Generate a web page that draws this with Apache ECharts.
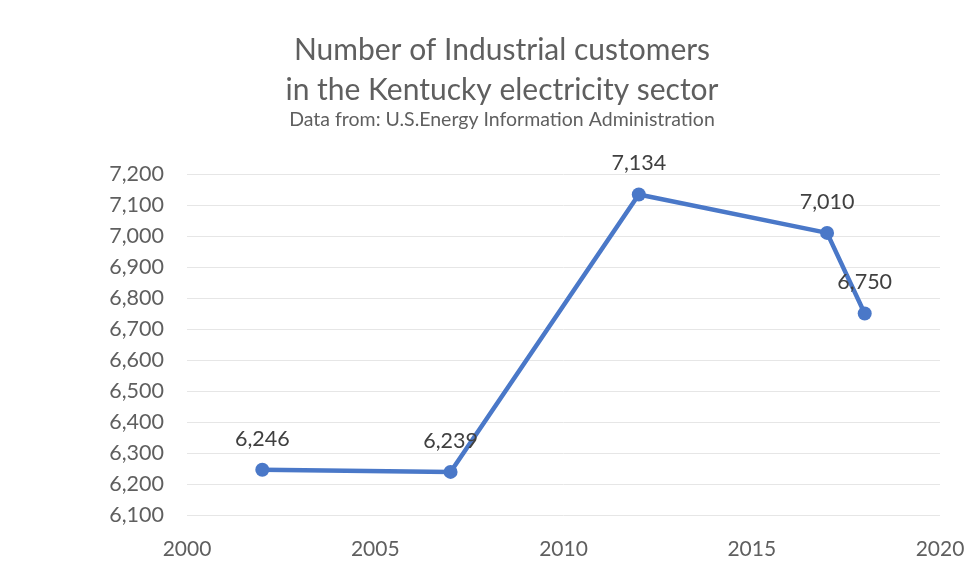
<!DOCTYPE html>
<html>
<head>
<meta charset="utf-8">
<script src="https://cdn.jsdelivr.net/npm/echarts@6/dist/echarts.min.js"></script>
<style>
  html, body { margin: 0; padding: 0; background: #ffffff; }
  #chart { width: 971px; height: 574px; }
</style>
</head>
<body>
<div id="chart"></div>
<script>
// Industrial customer counts by year
const years = [2002, 2007, 2012, 2017, 2018];
const customers = [6246, 6239, 7134, 7010, 6750];
const titleLines = ['Number of Industrial customers', 'in the Kentucky electricity sector'];
const subtitleText = 'Data from: U.S.Energy Information Administration';

const fontFamily = 'Lato, "Open Sans", "Liberation Sans", sans-serif';
const chart = echarts.init(document.getElementById('chart'));

chart.setOption({
  backgroundColor: '#ffffff',
  animation: false,
  title: {
    text: titleLines.join('\n'),
    subtext: subtitleText,
    left: 497,
    textAlign: 'center',
    top: 25,
    itemGap: 0,
    textStyle: { fontFamily, fontSize: 30, fontWeight: 'normal', color: '#5f5f5f', lineHeight: 40 },
    subtextStyle: { fontFamily, fontSize: 19.5, color: '#5f5f5f' }
  },
  grid: { left: 187, right: 31, top: 174, bottom: 59 },
  xAxis: {
    type: 'value',
    min: 2000,
    max: 2020,
    interval: 5,
    axisLine: { show: false },
    axisTick: { show: false },
    splitLine: { show: false },
    axisLabel: { fontFamily, fontSize: 21, color: '#5f5f5f', margin: 24, formatter: v => String(v) }
  },
  yAxis: {
    type: 'value',
    min: 6100,
    max: 7200,
    interval: 100,
    axisLine: { show: false },
    axisTick: { show: false },
    splitLine: { lineStyle: { color: '#e6e6e6', width: 1 } },
    axisLabel: {
      fontFamily, fontSize: 21.5, color: '#5f5f5f', margin: 23,
      formatter: v => v.toLocaleString('en-US')
    }
  },
  series: [{
    type: 'line',
    data: years.map((y, i) => [y, customers[i]]),
    symbol: 'circle',
    symbolSize: 14,
    lineStyle: { color: '#4a78c8', width: 4.5 },
    itemStyle: { color: '#4a78c8' },
    label: {
      show: true,
      position: 'top',
      distance: 13,
      fontFamily, fontSize: 21.5, color: '#404040',
      formatter: p => p.value[1].toLocaleString('en-US')
    }
  }]
});
</script>
</body>
</html>
